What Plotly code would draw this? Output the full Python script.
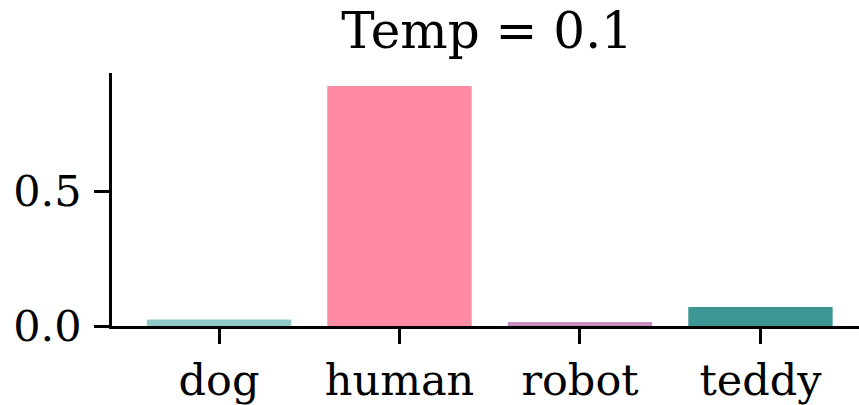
import plotly.graph_objects as go

categories = ['dog', 'human', 'robot', 'teddy']
probs = [0.024, 0.89, 0.015, 0.07]
colors = ['#90CAC8', '#FF8AA3', '#C98FC0', '#3C9693']

fig = go.Figure()
fig.add_trace(go.Bar(
    x=categories,
    y=probs,
    marker=dict(color=colors, line=dict(width=0)),
    width=0.8,
))

font = 'DejaVu Serif'
fig.update_layout(
    width=859,
    height=405,
    margin=dict(l=112, r=0, t=73, b=75),
    plot_bgcolor='white',
    paper_bgcolor='white',
    showlegend=False,
    font=dict(family=font, size=43, color='black'),
    title=dict(text='Temp = 0.1', x=0.567, xanchor='center', y=0.925, yanchor='middle',
               font=dict(family=font, size=50, color='black')),
)
fig.update_xaxes(
    range=[-0.593, 3.546],
    showline=True, linecolor='black', linewidth=2.5,
    ticks='outside', ticklen=15, tickwidth=2.5, tickcolor='black',
    showgrid=False,
)
fig.update_yaxes(
    range=[0, 0.938],
    tickvals=[0, 0.5], ticktext=['0.0', '0.5'],
    showline=True, linecolor='black', linewidth=2.5,
    ticks='outside', ticklen=15, tickwidth=2.5, tickcolor='black',
    ticklabelstandoff=4,
    showgrid=False, zeroline=False,
)

# drop the default body margin so the figure sits at the window's corner
fig.write_html('out.html', config={'displayModeBar': False},
               post_script="document.body.style.margin='0';")
